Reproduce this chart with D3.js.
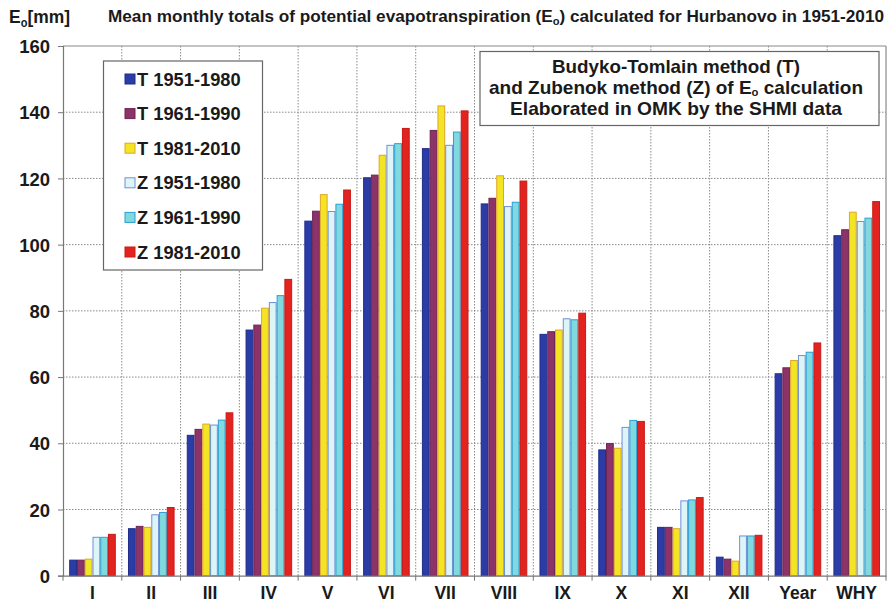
<!DOCTYPE html>
<html>
<head>
<meta charset="utf-8">
<script src="https://cdn.jsdelivr.net/npm/d3@7"></script>
<style>
  html, body { margin: 0; padding: 0; background: #fff; }
  svg { display: block; }
  text { font-family: "Liberation Sans", Arial, sans-serif; font-weight: bold; fill: #1a1a1a; }
</style>
</head>
<body>
<svg id="chart" width="887" height="603"></svg>
<script>
// Months, annual total and hydrological year
const categories = ["I", "II", "III", "IV", "V", "VI", "VII", "VIII", "IX", "X", "XI", "XII", "Year", "WHY"];

// Potential evapotranspiration Eo [mm], Budyko-Tomlain (T) and Zubenok (Z) methods
const t19511980 = [4.7, 14.2, 42.4, 74.2, 107.1, 120.2, 129.0, 112.3, 72.9, 38.0, 14.6, 5.6, 61.0, 102.7];
const t19611990 = [4.7, 14.9, 44.2, 75.7, 110.1, 121.0, 134.5, 114.0, 73.7, 39.9, 14.6, 5.0, 62.8, 104.5];
const t19812010 = [5.0, 14.6, 45.8, 80.8, 115.1, 127.0, 141.9, 120.8, 74.2, 38.5, 14.2, 4.4, 65.0, 109.8];
const z19511980 = [11.6, 18.4, 45.5, 82.5, 110.0, 130.0, 130.0, 111.5, 77.6, 44.8, 22.6, 12.0, 66.5, 107.0];
const z19611990 = [11.6, 19.1, 47.0, 84.6, 112.2, 130.5, 134.0, 112.8, 77.3, 46.9, 22.9, 12.0, 67.5, 108.0];
const z19812010 = [12.5, 20.6, 49.2, 89.5, 116.5, 135.1, 140.4, 119.2, 79.3, 46.6, 23.6, 12.2, 70.3, 113.0];

const seriesNames = ["T 1951-1980", "T 1961-1990", "T 1981-2010", "Z 1951-1980", "Z 1961-1990", "Z 1981-2010"];
const seriesValues = [t19511980, t19611990, t19812010, z19511980, z19611990, z19812010];
const yTicks = [0, 20, 40, 60, 80, 100, 120, 140, 160];

const fills   = ["#2b3ca6", "#8c3369", "#f3e523", "#def5f7", "#7fd9df", "#e3231f"];
const strokes = ["#1f2d8a", "#6e2452", "#e0a52a", "#6f8fd8", "#2a9fd3", "#c81a17"];

const svg = d3.select("#chart");
const plotL = 63, plotR = 886, plotT = 46, plotB = 575.7;

const x0 = d3.scaleBand().domain(categories).range([plotL, plotR]).paddingInner(0).paddingOuter(0);
const x1 = d3.scaleBand().domain(d3.range(seriesNames.length))
  .range([6.2, x0.bandwidth() - 6.0]).paddingInner(0).paddingOuter(0);
const y = d3.scaleLinear().domain([0, 160]).range([plotB, plotT]);

// dotted grid
const grid = svg.append("g");
grid.selectAll("line.h").data(yTicks.filter(v => v > 0 && v < 160)).join("line")
  .attr("x1", plotL).attr("x2", plotR)
  .attr("y1", d => y(d)).attr("y2", d => y(d))
  .attr("stroke", "#8a8a8a").attr("stroke-width", 1).attr("stroke-dasharray", "1.5,1.5");
grid.selectAll("line.v").data(categories.slice(1)).join("line")
  .attr("x1", d => x0(d)).attr("x2", d => x0(d))
  .attr("y1", plotT).attr("y2", plotB)
  .attr("stroke", "#8a8a8a").attr("stroke-width", 1).attr("stroke-dasharray", "1.5,1.5");

// frame top and right
svg.append("line").attr("x1", plotL).attr("x2", plotR).attr("y1", plotT).attr("y2", plotT)
  .attr("stroke", "#8a8a8a").attr("stroke-width", 1.2);
svg.append("line").attr("x1", plotR).attr("x2", plotR).attr("y1", plotT).attr("y2", plotB)
  .attr("stroke", "#8a8a8a").attr("stroke-width", 1.2);

// bars
const groups = svg.append("g").selectAll("g").data(categories).join("g")
  .attr("transform", d => `translate(${x0(d)},0)`);
groups.selectAll("rect")
  .data((c, i) => seriesValues.map((s, k) => ({ k, v: s[i] })))
  .join("rect")
  .attr("x", d => x1(d.k) + 0.5)
  .attr("width", x1.bandwidth() - 1)
  .attr("y", d => y(d.v))
  .attr("height", d => y(0) - y(d.v))
  .attr("fill", d => fills[d.k])
  .attr("stroke", d => strokes[d.k])
  .attr("stroke-width", 1);

// y axis
const yAxis = d3.axisLeft(y).tickValues(yTicks).tickSize(5).tickPadding(8);
const gy = svg.append("g").attr("transform", `translate(${plotL},0)`).call(yAxis);
gy.select(".domain").attr("stroke", "#777").attr("stroke-width", 1.2);
gy.selectAll(".tick line").attr("stroke", "#777");
gy.selectAll(".tick text").attr("font-size", 18.5).attr("font-family", "Liberation Sans, Arial, sans-serif")
  .attr("font-weight", "bold").attr("fill", "#1a1a1a").attr("dy", "0.36em");

// x axis
const xAxis = d3.axisBottom(x0).tickSize(0).tickPadding(12);
const gx = svg.append("g").attr("transform", `translate(0,${plotB})`).call(xAxis);
gx.select(".domain").attr("stroke", "#777").attr("stroke-width", 1.2);
gx.selectAll(".tick text").attr("font-size", 17.5).attr("font-family", "Liberation Sans, Arial, sans-serif")
  .attr("font-weight", "bold").attr("fill", "#1a1a1a").attr("dy", "0.66em");
gx.selectAll("line.sep").data(categories.concat(["_end"])).join("line")
  .attr("x1", (d, i) => plotL + i * x0.bandwidth()).attr("x2", (d, i) => plotL + i * x0.bandwidth())
  .attr("y1", 0).attr("y2", 5).attr("stroke", "#777");

// title and unit
const unit = svg.append("text").attr("x", 9).attr("y", 23).attr("font-size", 19)
  .attr("textLength", 61).attr("lengthAdjust", "spacingAndGlyphs");
unit.append("tspan").text("E");
unit.append("tspan").attr("font-size", 12).attr("dy", 4).text("o");
unit.append("tspan").attr("dy", -4).text("[mm]");

const title = svg.append("text").attr("x", 108).attr("y", 22).attr("font-size", 17)
  .attr("textLength", 776).attr("lengthAdjust", "spacingAndGlyphs");
title.append("tspan").text("Mean monthly  totals of potential evapotranspiration  (E");
title.append("tspan").attr("font-size", 11).attr("dy", 3).text("o");
title.append("tspan").attr("dy", -3).text(") calculated for Hurbanovo in 1951-2010");

// legend
const lg = svg.append("g");
lg.append("rect").attr("x", 103.5).attr("y", 61).attr("width", 159).attr("height", 209)
  .attr("fill", "#fff").attr("stroke", "#666").attr("stroke-width", 1.2);
const rows = lg.selectAll("g.row").data(seriesNames).join("g")
  .attr("transform", (d, i) => `translate(0,${79 + i * 34.6})`);
rows.append("rect").attr("x", 125).attr("y", -5).attr("width", 10).attr("height", 10)
  .attr("fill", (d, i) => fills[i]).attr("stroke", (d, i) => strokes[i]).attr("stroke-width", 1);
rows.append("text").attr("x", 137).attr("y", 0).attr("dy", "0.36em").attr("font-size", 18.3)
  .text(d => d);

// method note
const nb = svg.append("g");
nb.append("rect").attr("x", 480).attr("y", 51.5).attr("width", 399).attr("height", 74)
  .attr("fill", "#fff").attr("stroke", "#666").attr("stroke-width", 1.2);
const cx = 676;
nb.append("text").attr("x", cx).attr("y", 73).attr("text-anchor", "middle").attr("font-size", 18.5)
  .attr("textLength", 248).attr("lengthAdjust", "spacingAndGlyphs")
  .text("Budyko-Tomlain method (T)");
const l2 = nb.append("text").attr("x", cx).attr("y", 94).attr("text-anchor", "middle").attr("font-size", 18.5)
  .attr("textLength", 374).attr("lengthAdjust", "spacingAndGlyphs");
l2.append("tspan").text("and Zubenok method  (Z) of E");
l2.append("tspan").attr("font-size", 11).attr("dy", 2).text("o");
l2.append("tspan").attr("dy", -2).text(" calculation");
nb.append("text").attr("x", cx).attr("y", 115).attr("text-anchor", "middle").attr("font-size", 18.5)
  .attr("textLength", 332).attr("lengthAdjust", "spacingAndGlyphs")
  .text("Elaborated in OMK by the SHMI data");
</script>
</body>
</html>
